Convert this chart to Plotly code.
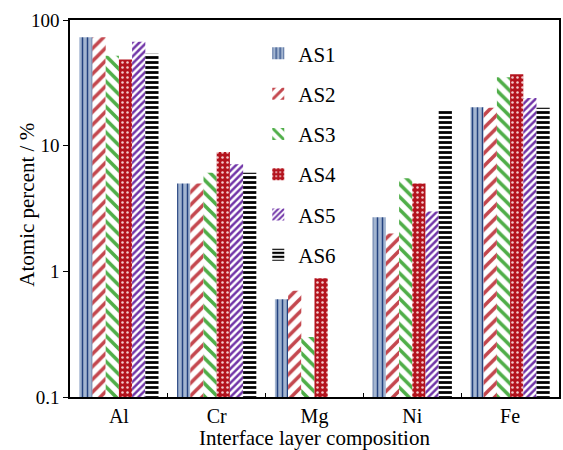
import plotly.graph_objects as go

categories = ["Al", "Cr", "Mg", "Ni", "Fe"]
series_names = ["AS1", "AS2", "AS3", "AS4", "AS5", "AS6"]
AS1 = [73, 5.0, 0.60, 2.7, 20.2]
AS2 = [73, 5.0, 0.70, 2.0, 20.0]
AS3 = [52, 6.1, 0.30, 5.5, 35]
AS4 = [48.5, 8.9, 0.88, 5.0, 37]
AS5 = [67, 7.1, None, 3.0, 24]
AS6 = [54, 6.1, None, 19.2, 20]
values = [AS1, AS2, AS3, AS4, AS5, AS6]
y_tickvals = [0.1, 1, 10, 100]
y_ticktext = ["0.1", "1", "10", "100"]

styles = [
    dict(color="#a3b5d0", pattern=dict(shape="|", fgcolor="#23427f", bgcolor="#a3b5d0", size=5, solidity=0.3)),
    dict(color="#ffffff", pattern=dict(shape="/", fgcolor="#c4474e", bgcolor="#ffffff", size=9, solidity=0.4)),
    dict(color="#ffffff", pattern=dict(shape="\\", fgcolor="#4fae48", bgcolor="#ffffff", size=9, solidity=0.4)),
    dict(color="#b3131d", pattern=dict(shape=".", fgcolor="#f3c9cb", bgcolor="#b3131d", size=5, solidity=0.2)),
    dict(color="#ffffff", pattern=dict(shape="/", fgcolor="#7135a8", bgcolor="#ffffff", size=5, solidity=0.5)),
    dict(color="#ffffff", pattern=dict(shape="-", fgcolor="#000000", bgcolor="#ffffff", size=5, solidity=0.55)),
]

fig = go.Figure()
for name, vals, st in zip(series_names, values, styles):
    pat = dict(st["pattern"], fillmode="overlay", fgopacity=1)
    fig.add_trace(go.Bar(
        x=categories, y=vals, name=name, legendgroup=name,
        marker=dict(color=st["color"], pattern=pat, line=dict(width=0)),
    ))

font_family = "Liberation Serif"
fig.update_layout(
    width=563, height=450,
    margin=dict(l=70, r=2, t=20, b=53),
    paper_bgcolor="white", plot_bgcolor="white",
    barmode="group", bargap=0.19, bargroupgap=0,
    font=dict(family=font_family, size=19, color="black"),
    showlegend=True,
    legend=dict(x=0.385, y=0.965, xanchor="left", yanchor="top",
                font=dict(size=21, family=font_family),
                tracegroupgap=10, bgcolor="rgba(0,0,0,0)", itemwidth=30),
    annotations=[dict(
        text="Atomic percent / %", xref="paper", yref="paper",
        x=-0.088, y=0.51, xanchor="center", yanchor="middle",
        textangle=-90, showarrow=False,
        font=dict(size=21, family=font_family, color="black"),
    )],
)
fig.update_xaxes(
    showline=True, linecolor="black", linewidth=1.5, mirror=True,
    ticks="inside", ticklen=4, tickwidth=1, tickcolor="black", tickson="boundaries",
    tickfont=dict(size=20, family=font_family),
    title=dict(text="Interface layer composition", font=dict(size=21, family=font_family), standoff=2),
    showgrid=False,
)
fig.update_yaxes(
    type="log", range=[-1, 2],
    tickvals=y_tickvals, ticktext=y_ticktext,
    showline=True, linecolor="black", linewidth=1.5, mirror=True,
    ticks="outside", ticklen=5, tickwidth=1, tickcolor="black",
    tickfont=dict(size=19, family=font_family),
    showgrid=False, zeroline=False,
)

fig.write_html("out.html", config={"displayModeBar": False},
               post_script="document.body.style.margin='0px';document.body.style.overflow='hidden';")
